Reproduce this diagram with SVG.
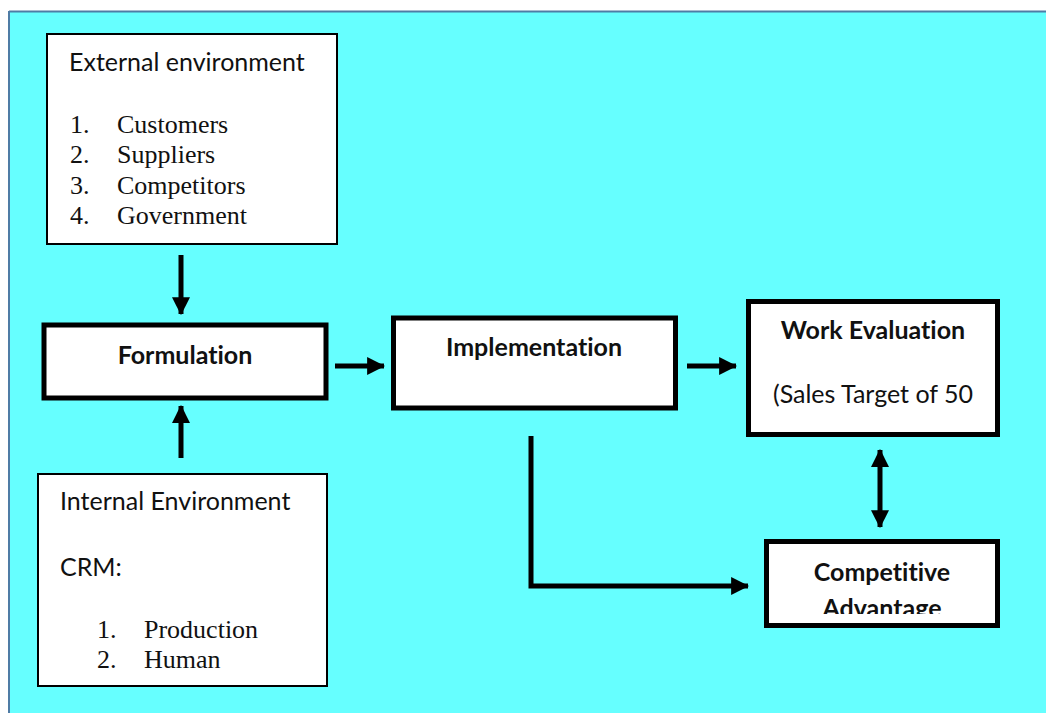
<svg xmlns="http://www.w3.org/2000/svg" width="1046" height="713" viewBox="0 0 1046 713">
<defs>
<style>
.bg{fill:#66FFFF}
.thin{fill:#fff;stroke:#000;stroke-width:2}
.thick{fill:#fff;stroke:#000;stroke-width:5}
.sans{font-family:Lato,"Open Sans","Liberation Sans",sans-serif;font-size:25px;fill:#111;font-variant-ligatures:none}
.bold{font-family:Lato,"Open Sans","Liberation Sans",sans-serif;font-size:25px;font-weight:bold;fill:#111;font-variant-ligatures:none}
.serif{font-family:"Liberation Serif","DejaVu Serif",serif;font-size:26px;fill:#111}
.con{fill:none;stroke:#000;stroke-width:5}
</style>
<marker id="ah" markerUnits="userSpaceOnUse" markerWidth="18" markerHeight="18" viewBox="0 0 16 16" refX="15" refY="8" orient="auto-start-reverse">
<path d="M0,0 L16,8 L0,16 Z" fill="#000"/>
</marker>
<clipPath id="clipWE"><rect x="746" y="299" width="254" height="129"/></clipPath>
<clipPath id="clipCA"><rect x="764" y="539" width="236" height="75"/></clipPath>
</defs>
<rect x="0" y="0" width="1046" height="713" fill="#fff"/>
<rect class="bg" x="9" y="11" width="1037" height="702"/>
<line x1="9" y1="11.5" x2="1046" y2="11.5" stroke="#4F7CA5" stroke-width="2"/>
<line x1="9" y1="11" x2="9" y2="713" stroke="#4F7CA5" stroke-width="2"/>

<g id="external">
<rect class="thin" x="47" y="34" width="290" height="210"/>
<text class="sans" x="69" y="71">External environment</text>
<text class="serif" x="70" y="133">1.</text><text class="serif" x="117" y="133">Customers</text>
<text class="serif" x="70" y="163">2.</text><text class="serif" x="117" y="163">Suppliers</text>
<text class="serif" x="70" y="194">3.</text><text class="serif" x="117" y="194">Competitors</text>
<text class="serif" x="70" y="224">4.</text><text class="serif" x="117" y="224">Government</text>
</g>

<g id="formulation">
<rect class="thick" x="44" y="325" width="282" height="73"/>
<text class="bold" x="185" y="364" text-anchor="middle">Formulation</text>
</g>

<g id="internal">
<rect class="thin" x="38" y="474" width="289" height="212"/>
<text class="sans" x="60" y="510">Internal Environment</text>
<text class="sans" x="60" y="576">CRM:</text>
<text class="serif" x="97" y="638">1.</text><text class="serif" x="144" y="638">Production</text>
<text class="serif" x="97" y="668">2.</text><text class="serif" x="144" y="668">Human</text>
</g>

<g id="implementation">
<rect class="thick" x="393.5" y="318" width="282" height="90"/>
<text class="bold" x="534" y="356" text-anchor="middle">Implementation</text>
</g>

<g id="work-evaluation">
<rect class="thick" x="748.5" y="301.5" width="249" height="133"/>
<g clip-path="url(#clipWE)">
<text class="bold" x="873" y="339" text-anchor="middle">Work Evaluation</text>
<text class="sans" x="873" y="403" text-anchor="middle">(Sales Target of 50</text>
</g>
</g>

<g id="competitive-advantage">
<rect class="thick" x="766.5" y="541.5" width="231" height="84"/>
<g clip-path="url(#clipCA)">
<text class="bold" x="882" y="581" text-anchor="middle">Competitive</text>
<text class="bold" x="882" y="617" text-anchor="middle">Advantage</text>
</g>
</g>

<g id="connectors">
<line class="con" x1="181" y1="255" x2="181" y2="314" marker-end="url(#ah)"/>
<line class="con" x1="181" y1="458" x2="181" y2="406" marker-end="url(#ah)"/>
<line class="con" x1="335" y1="366" x2="384" y2="366" marker-end="url(#ah)"/>
<line class="con" x1="687" y1="366" x2="736" y2="366" marker-end="url(#ah)"/>
<line class="con" x1="880" y1="450" x2="880" y2="527" marker-start="url(#ah)" marker-end="url(#ah)"/>
<polyline class="con" points="531,436 531,586 748,586" marker-end="url(#ah)"/>
</g>
</svg>
